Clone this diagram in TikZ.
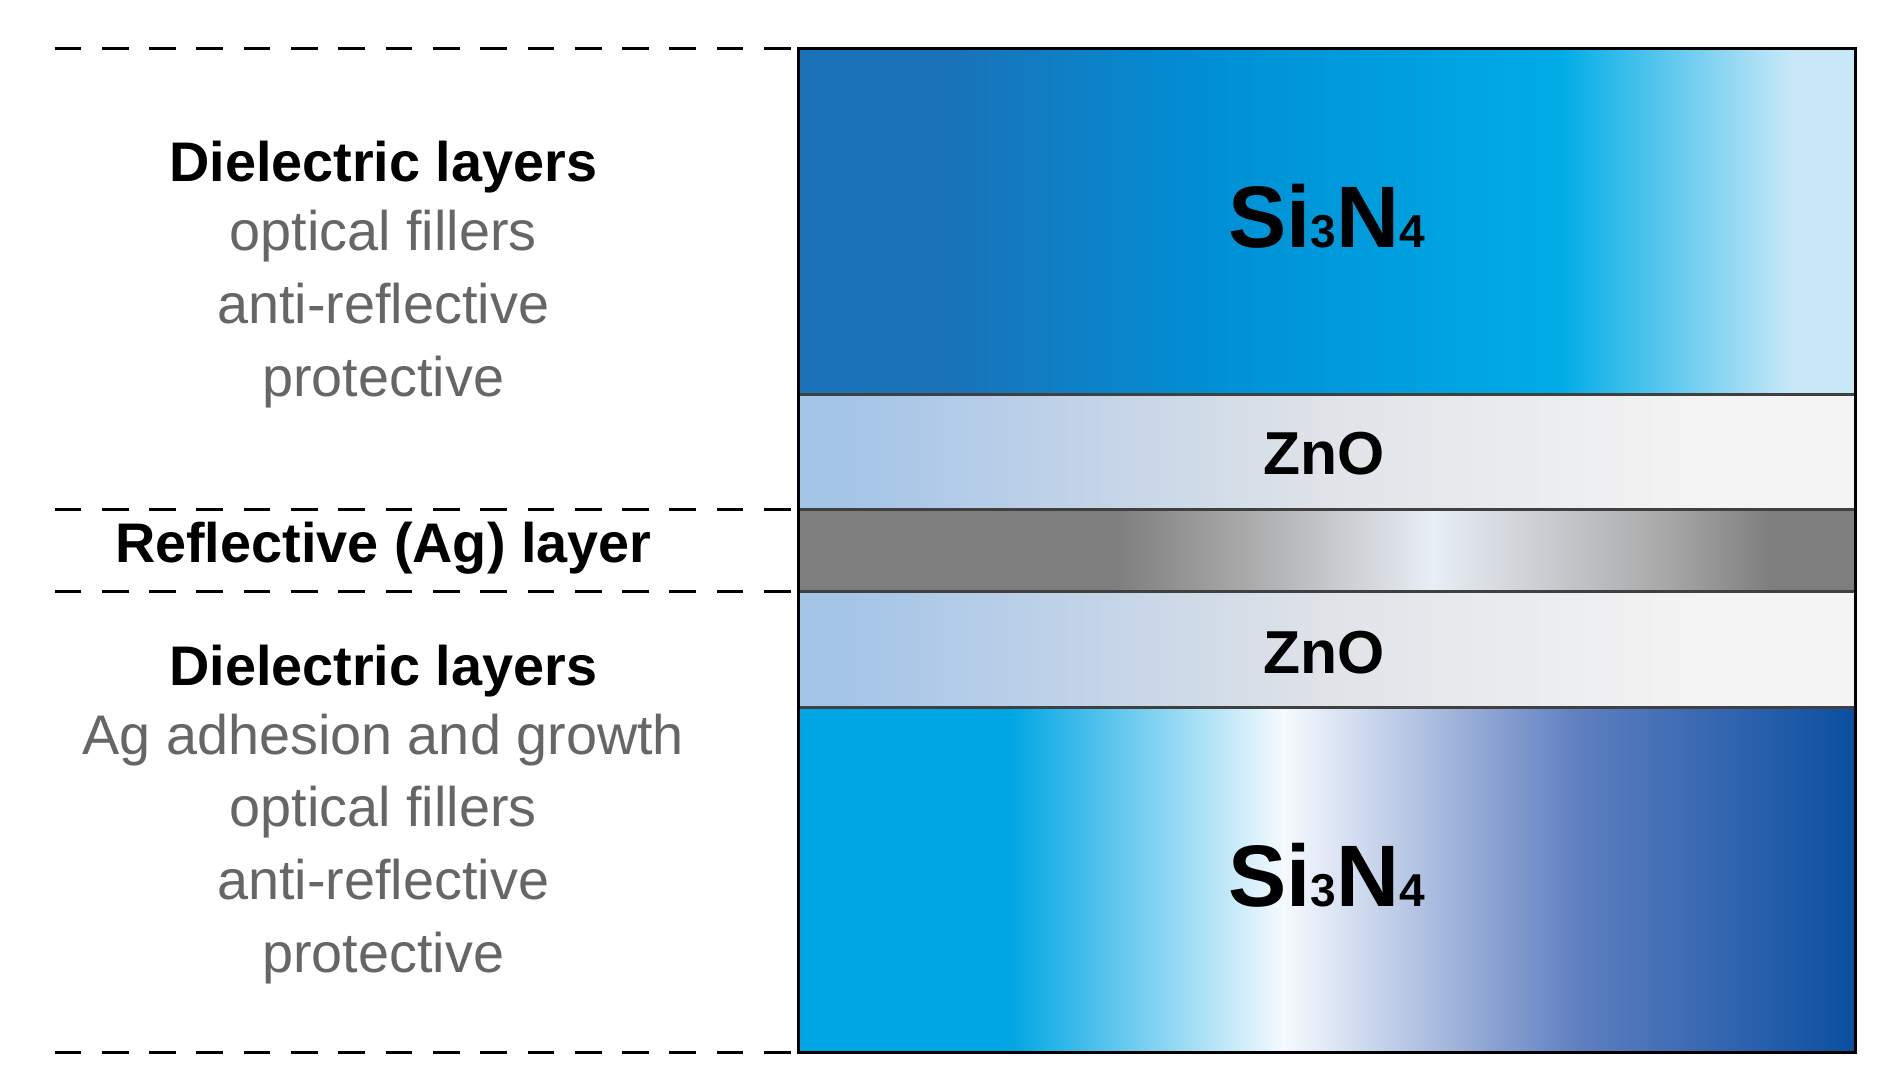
\documentclass[tikz,border=0pt]{standalone}
\usepackage{fontspec}
\setmainfont{Liberation Sans}
\definecolor{sitl}{HTML}{1A72B8}
\definecolor{sitm}{HTML}{0090D6}
\definecolor{sitr1}{HTML}{00ACE6}
\definecolor{sitr2}{HTML}{C8E8F8}
\definecolor{znl}{HTML}{A4C4E8}
\definecolor{znm}{HTML}{E0E3E8}
\definecolor{znr}{HTML}{F4F4F4}
\definecolor{agd}{HTML}{7E7E7E}
\definecolor{agm}{HTML}{A8A8A8}
\definecolor{agl}{HTML}{E8EEF6}
\definecolor{sibl}{HTML}{00A6E4}
\definecolor{sibw}{HTML}{F6FAFE}
\definecolor{sibm}{HTML}{5E7EC0}
\definecolor{sibr}{HTML}{0A4FA0}
\definecolor{txtgray}{HTML}{666666}
\pgfdeclarehorizontalshading{sitop}{100bp}{color(0bp)=(sitl); color(32bp)=(sitl); color(45bp)=(sitm); color(61bp)=(sitr1); color(72bp)=(sitr2); color(100bp)=(sitr2)}
\pgfdeclarehorizontalshading{znosh}{100bp}{color(0bp)=(znl); color(27bp)=(znl); color(50bp)=(znm); color(68bp)=(znr); color(100bp)=(znr)}
\pgfdeclarehorizontalshading{agsh}{100bp}{color(0bp)=(agd); color(40bp)=(agd); color(46bp)=(agm); color(55bp)=(agl); color(66bp)=(agm); color(71bp)=(agd); color(100bp)=(agd)}
\pgfdeclarehorizontalshading{sibot}{100bp}{color(0bp)=(sibl); color(35bp)=(sibl); color(48bp)=(sibw); color(62bp)=(sibm); color(75bp)=(sibr); color(100bp)=(sibr)}
\tikzset{
  dashline/.style={line width=2.5pt, dash pattern=on 22pt off 17pt},
  layerbox/.style={draw=black!75, line width=2.5pt},
  head/.style={font=\fontsize{46}{50}\selectfont\bfseries, text=black},
  sub/.style={font=\fontsize{46}{60}\selectfont, text=txtgray, align=center},
  big/.style={font=\fontsize{72}{74}\selectfont\bfseries},
  zno/.style={font=\fontsize{50}{52}\selectfont\bfseries}
}
\begin{document}
\begin{tikzpicture}[x=1pt,y=-1pt]
\useasboundingbox (0,0) rectangle (1560,900);
\shade[shading=sitop] (658,40) rectangle (1530,325);
\shade[shading=znosh] (658,325) rectangle (1530,420);
\shade[shading=agsh] (658,420) rectangle (1530,488);
\shade[shading=znosh] (658,488) rectangle (1530,583);
\shade[shading=sibot] (658,583) rectangle (1530,868);
\draw[layerbox] (658,325) -- (1530,325);
\draw[layerbox] (658,420) -- (1530,420);
\draw[layerbox] (658,488) -- (1530,488);
\draw[layerbox] (658,583) -- (1530,583);
\draw[line width=2.5pt] (658,40) rectangle (1530,868);
\node[big] (s1) at (1094,178) {Si{\fontsize{38}{38}\selectfont 3}N{\fontsize{38}{38}\selectfont 4}};
\node[zno] (z1) at (1092,374) {ZnO};
\node[zno] (z2) at (1092,538) {ZnO};
\node[big] (s2) at (1094,722) {Si{\fontsize{38}{38}\selectfont 3}N{\fontsize{38}{38}\selectfont 4}};
\coordinate (d1a) at (45,40); \coordinate (d1b) at (656,40);
\coordinate (d2a) at (45,420); \coordinate (d2b) at (656,420);
\coordinate (d3a) at (45,488); \coordinate (d3b) at (656,488);
\coordinate (d4a) at (45,868); \coordinate (d4b) at (656,868);
\draw[dashline] (d1a) -- (d1b);
\draw[dashline] (d2a) -- (d2b);
\draw[dashline] (d3a) -- (d3b);
\draw[dashline] (d4a) -- (d4b);
\node[head] (h1) at (316,138) {Dielectric layers};
\node[sub, anchor=north] (t1) at (316,170) {optical fillers\\anti-reflective\\protective};
\node[head] (h2) at (316,452) {Reflective (Ag) layer};
\node[head] (h3) at (316,553) {Dielectric layers};
\node[sub, anchor=north] (t3) at (316,585) {Ag adhesion and growth\\optical fillers\\anti-reflective\\protective};
\end{tikzpicture}
\end{document}
